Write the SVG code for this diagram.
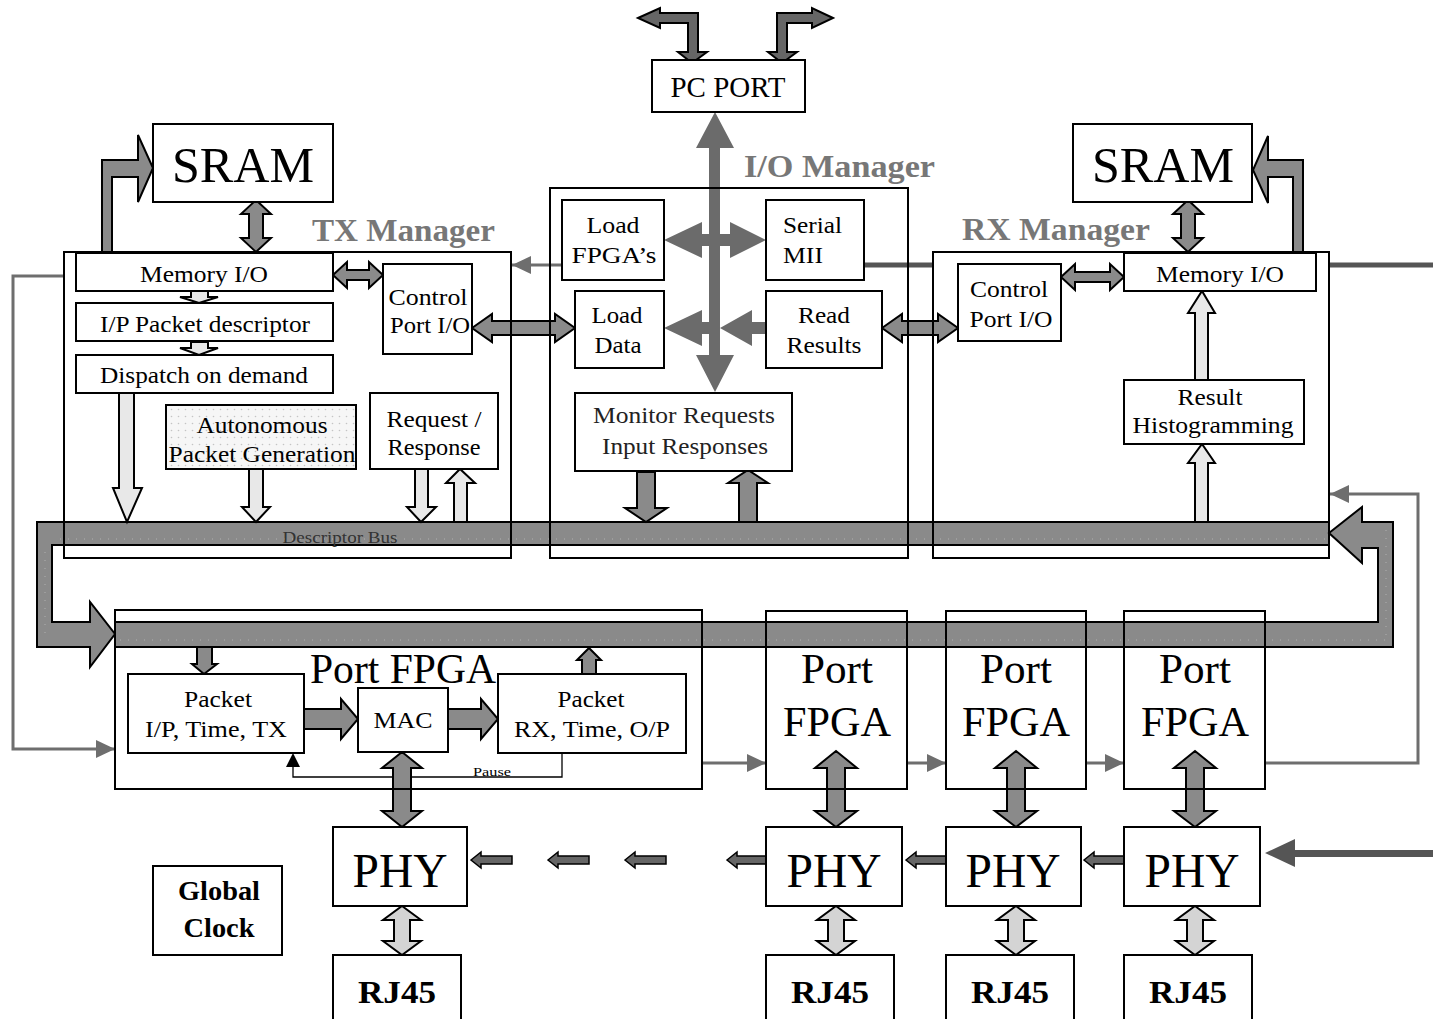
<svg xmlns="http://www.w3.org/2000/svg" width="1433" height="1019" viewBox="0 0 1433 1019">
<style>
.box{fill:#fff;stroke:#000;stroke-width:2}
.ol{fill:none;stroke:#000;stroke-width:2}
.t{font-family:"Liberation Serif","Times New Roman",serif;fill:#000;text-anchor:middle}
.ts{font-family:"Liberation Serif","Times New Roman",serif;fill:#000;text-anchor:start}
.title{font-family:"Liberation Serif","Times New Roman",serif;font-weight:bold;fill:#777;font-size:32px}
.ar{fill:#8a8a8a;stroke:#000;stroke-width:2;stroke-linejoin:miter}
.arl{fill:#e8e8e8;stroke:#000;stroke-width:2}
.arp{fill:#d4d4d4;stroke:#000;stroke-width:2}
.ard{fill:#6b6b6b;stroke:none}
.ars{fill:#666;stroke:#000;stroke-width:1.5}
.gl{fill:none;stroke:#6e6e6e;stroke-width:3}
.dots{fill:none;stroke:#b0b0b0;stroke-width:1;stroke-dasharray:1 7}
</style>
<defs>
<marker id="ga" markerUnits="userSpaceOnUse" markerWidth="19" markerHeight="18" refX="19" refY="9" orient="auto">
<path d="M0,0 L19,9 L0,18 z" fill="#6e6e6e"/>
</marker>
<pattern id="dp" width="7" height="7" patternUnits="userSpaceOnUse">
<rect width="7" height="7" fill="#f6f6f6"/>
<circle cx="3.5" cy="3.5" r="0.8" fill="#c4c4c4"/>
</pattern>
</defs>
<rect width="1433" height="1019" fill="#fff"/>

<!-- container boxes -->
<g id="tx-manager"><rect class="box" x="64" y="252" width="447" height="306"/>
<text class="title" x="312" y="241" textLength="183" lengthAdjust="spacingAndGlyphs">TX Manager</text></g>
<g id="io-manager"><rect class="box" x="550" y="188" width="358" height="370"/>
<text class="title" x="744" y="177" textLength="191" lengthAdjust="spacingAndGlyphs">I/O Manager</text></g>
<g id="rx-manager"><rect class="box" x="933" y="252" width="396" height="306"/>
<text class="title" x="962" y="240" textLength="188" lengthAdjust="spacingAndGlyphs">RX Manager</text></g>
<g id="port-fpga-main"><rect class="box" x="115" y="610" width="587" height="179"/></g>
<g id="port-fpga-2"><rect class="box" x="766" y="611" width="141" height="178"/></g>
<g id="port-fpga-3"><rect class="box" x="946" y="611" width="140" height="178"/></g>
<g id="port-fpga-4"><rect class="box" x="1124" y="611" width="141" height="178"/></g>

<!-- connectors -->
<g id="connectors">
<!-- descriptor bus loop -->
<polygon class="ar" points="1329,522 37,522 37,647 90,647 90,667 115,634 90,602 90,622 52,622 52,545 1329,545"/>
<polygon class="ar" points="115,622 1378,622 1378,548 1362,548 1362,563 1329,533 1362,507 1362,522 1393,522 1393,647 115,647"/>
<line class="dots" x1="60" y1="539" x2="1325" y2="539"/>
<line class="dots" x1="120" y1="640" x2="1386" y2="640"/>
<line class="dots" x1="45" y1="552" x2="45" y2="640"/>
<line class="dots" x1="1386" y1="530" x2="1386" y2="640"/>

<!-- PC port bent arrows -->
<polygon class="ar" style="fill:#666" points="638,18 660,8 660,13 698,13 698,52 707,52 692,63 678,52 688,52 688,23 660,23 660,28"/>
<polygon class="ar" style="fill:#666" points="833,18 812,8 812,13 777,13 777,52 768,52 782,63 797,52 787,52 787,23 812,23 812,28"/>

<!-- I/O manager central arrows -->
<polygon class="ard" points="715,112 734,148 720,148 720,355 734,355 715,392 696,355 709,355 709,148 696,148"/>
<polygon class="ard" points="664,240 702,222 702,234 730,234 730,222 766,240 730,258 730,246 702,246 702,258"/>
<polygon class="ard" points="664,328 702,310 702,322 715,322 715,334 702,334 702,346"/>
<polygon class="ard" points="720,328 752,310 752,322 767,322 767,334 752,334 752,346"/>
<polygon class="ar" points="637,472 655,472 655,508 667,508 646,522 625,508 637,508"/>
<polygon class="ar" points="739,522 739,483 728,483 748,470 768,483 757,483 757,522"/>

<!-- SRAM arrows -->
<polygon class="ar" points="256,200 271,214 263,214 263,238 271,238 256,252 241,238 249,238 249,214 241,214"/>
<polygon class="ar" points="1188,200 1203,214 1195,214 1195,238 1203,238 1188,252 1173,238 1181,238 1181,214 1173,214"/>
<polygon class="ar" points="102,252 102,160 138,160 138,135 153,168 138,202 138,177 112,177 112,252"/>
<polygon class="ar" points="1303,252 1303,160 1268,160 1268,136 1253,170 1268,203 1268,177 1293,177 1293,252"/>

<!-- horizontal double arrows -->
<polygon class="ar" points="333,275 347,262 347,270 369,270 369,262 383,275 369,288 369,280 347,280 347,288"/>
<polygon class="ar" points="1061,277 1075,264 1075,272 1110,272 1110,264 1124,277 1110,290 1110,282 1075,282 1075,290"/>
<polygon class="ar" points="472,328 492,314 492,321 555,321 555,314 575,328 555,342 555,335 492,335 492,342"/>
<polygon class="ar" points="882,328 902,314 902,321 938,321 938,314 958,328 938,342 938,335 902,335 902,342"/>

<!-- TX internal light arrows -->
<polygon class="arl" points="191,291 208,291 208,297 218,297 199,303 180,297 191,297"/>
<polygon class="arl" points="191,342 208,342 208,348 218,348 199,355 180,348 191,348"/>
<polygon class="arl" points="119,393 134,393 134,488 142,488 127,522 113,488 119,488"/>
<polygon class="arl" points="249,469 263,469 263,507 270,507 256,522 242,507 249,507"/>
<polygon class="arl" points="415,469 428,469 428,507 436,507 421,522 407,507 415,507"/>
<polygon class="arl" points="454,522 454,483 446,483 460,469 475,483 467,483 467,522"/>

<!-- RX internal light arrows -->
<polygon class="arl" points="1195,380 1195,313 1188,313 1202,291 1215,313 1208,313 1208,380"/>
<polygon class="arl" points="1195,522 1195,463 1188,463 1202,444 1215,463 1208,463 1208,522"/>

<!-- Port FPGA internal arrows -->
<polygon class="ar" points="304,709 341,709 341,699 358,719 341,739 341,729 304,729"/>
<polygon class="ar" points="448,709 481,709 481,699 498,719 481,739 481,729 448,729"/>
<polygon class="ar" points="197,647 212,647 212,664 217,664 204,674 192,664 197,664"/>
<polygon class="ar" points="582,674 582,660 577,660 589,648 601,660 596,660 596,674"/>
<polyline points="562,753 562,777 293,777 293,766" fill="none" stroke="#000" stroke-width="1.3"/>
<polygon points="293,753 300,767 286,767" fill="#000"/>

<!-- FPGA <-> PHY -->
<polygon class="ar" points="402,752 422,768 411,768 411,811 422,811 402,827 382,811 393,811 393,768 382,768"/>
<polygon class="ar" points="836,751 857,768 845,768 845,811 857,811 836,827 815,811 827,811 827,768 815,768"/>
<polygon class="ar" points="1016,751 1037,768 1025,768 1025,811 1037,811 1016,827 995,811 1007,811 1007,768 995,768"/>
<polygon class="ar" points="1195,751 1216,768 1204,768 1204,811 1216,811 1195,827 1174,811 1186,811 1186,768 1174,768"/>

<!-- PHY <-> RJ45 -->
<polygon class="arp" points="402,906 421,920 410,920 410,941 421,941 402,955 383,941 394,941 394,920 383,920"/>
<polygon class="arp" points="836,906 855,920 844,920 844,941 855,941 836,955 817,941 828,941 828,920 817,920"/>
<polygon class="arp" points="1016,906 1035,920 1024,920 1024,941 1035,941 1016,955 997,941 1008,941 1008,920 997,920"/>
<polygon class="arp" points="1195,906 1214,920 1203,920 1203,941 1214,941 1195,955 1176,941 1187,941 1187,920 1176,920"/>

<!-- small left arrows between PHYs -->
<polygon class="ars" points="471,860 481,852 481,856 512,856 512,864 481,864 481,868"/>
<polygon class="ars" points="548,860 558,852 558,856 589,856 589,864 558,864 558,868"/>
<polygon class="ars" points="625,860 635,852 635,856 666,856 666,864 635,864 635,868"/>
<polygon class="ars" points="727,860 737,852 737,856 766,856 766,864 737,864 737,868"/>
<polygon class="ars" points="906,860 916,852 916,856 946,856 946,864 916,864 916,868"/>
<polygon class="ars" points="1084,860 1094,852 1094,856 1124,856 1124,864 1094,864 1094,868"/>
<polygon fill="#555" points="1265,853 1295,839 1295,850 1433,850 1433,857 1295,857 1295,867"/>

<!-- thin gray control lines -->
<polyline class="gl" points="64,276 13,276 13,749 115,749" marker-end="url(#ga)"/>
<line class="gl" x1="562" y1="265" x2="512" y2="265" marker-end="url(#ga)"/>
<line class="gl" x1="702" y1="763" x2="766" y2="763" marker-end="url(#ga)"/>
<line class="gl" x1="907" y1="763" x2="946" y2="763" marker-end="url(#ga)"/>
<line class="gl" x1="1086" y1="763" x2="1124" y2="763" marker-end="url(#ga)"/>
<polyline class="gl" points="1265,763 1418,763 1418,494 1330,494" marker-end="url(#ga)"/>

<!-- serial MII line -->
<line x1="864" y1="265" x2="933" y2="265" stroke="#555" stroke-width="5"/>
<line x1="1329" y1="265" x2="1433" y2="265" stroke="#555" stroke-width="5"/>
</g>

<!-- outlines re-drawn over the bus -->
<rect class="ol" x="64" y="252" width="447" height="306"/>
<rect class="ol" x="550" y="188" width="358" height="370"/>
<rect class="ol" x="933" y="252" width="396" height="306"/>
<rect class="ol" x="115" y="610" width="587" height="179"/>
<rect class="ol" x="766" y="611" width="141" height="178"/>
<rect class="ol" x="946" y="611" width="140" height="178"/>
<rect class="ol" x="1124" y="611" width="141" height="178"/>
<text class="t" x="340" y="543" font-size="17" fill="#333" style="fill:#333" textLength="115" lengthAdjust="spacingAndGlyphs">Descriptor Bus</text>

<!-- nodes -->
<g id="pc-port"><rect class="box" x="652" y="60" width="153" height="52"/>
<text class="t" x="728" y="97" font-size="29" textLength="115" lengthAdjust="spacingAndGlyphs">PC PORT</text></g>

<g id="sram-tx"><rect class="box" x="153" y="124" width="180" height="78"/>
<text class="t" x="243" y="182" font-size="50" textLength="142" lengthAdjust="spacingAndGlyphs">SRAM</text></g>
<g id="sram-rx"><rect class="box" x="1073" y="124" width="179" height="78"/>
<text class="t" x="1163" y="182" font-size="50" textLength="142" lengthAdjust="spacingAndGlyphs">SRAM</text></g>

<g id="tx-memory-io"><rect class="box" x="76" y="253" width="257" height="38"/>
<text class="t" x="204" y="282" font-size="24" textLength="128" lengthAdjust="spacingAndGlyphs">Memory I/O</text></g>
<g id="tx-ip-packet"><rect class="box" x="76" y="303" width="257" height="38"/>
<text class="t" x="205" y="332" font-size="24" textLength="210" lengthAdjust="spacingAndGlyphs">I/P Packet descriptor</text></g>
<g id="tx-dispatch"><rect class="box" x="76" y="355" width="257" height="38"/>
<text class="t" x="204" y="383" font-size="24" textLength="208" lengthAdjust="spacingAndGlyphs">Dispatch on demand</text></g>
<g id="tx-control-port"><rect class="box" x="383" y="264" width="89" height="90"/>
<text class="t" x="428" y="305" font-size="24" textLength="79" lengthAdjust="spacingAndGlyphs">Control</text>
<text class="t" x="430" y="333" font-size="24" textLength="80" lengthAdjust="spacingAndGlyphs">Port I/O</text></g>
<g id="tx-autonomous"><rect x="166" y="405" width="190" height="64" fill="url(#dp)" stroke="#000" stroke-width="2"/>
<text class="t" x="262" y="433" font-size="24" textLength="131" lengthAdjust="spacingAndGlyphs">Autonomous</text>
<text class="t" x="262" y="462" font-size="24" textLength="187" lengthAdjust="spacingAndGlyphs">Packet Generation</text></g>
<g id="tx-request"><rect class="box" x="370" y="393" width="128" height="76"/>
<text class="t" x="434" y="427" font-size="24" textLength="95" lengthAdjust="spacingAndGlyphs">Request /</text>
<text class="t" x="434" y="455" font-size="24" textLength="93" lengthAdjust="spacingAndGlyphs">Response</text></g>

<g id="io-load-fpga"><rect class="box" x="562" y="200" width="102" height="80"/>
<text class="t" x="613" y="233" font-size="24" textLength="53" lengthAdjust="spacingAndGlyphs">Load</text>
<text class="t" x="614" y="263" font-size="24" textLength="85" lengthAdjust="spacingAndGlyphs">FPGA’s</text></g>
<g id="io-serial-mii"><rect class="box" x="766" y="200" width="98" height="80"/>
<text class="ts" x="783" y="233" font-size="24" textLength="59" lengthAdjust="spacingAndGlyphs">Serial</text>
<text class="ts" x="783" y="263" font-size="24" textLength="40" lengthAdjust="spacingAndGlyphs">MII</text></g>
<g id="io-load-data"><rect class="box" x="575" y="291" width="89" height="77"/>
<text class="t" x="617" y="323" font-size="24" textLength="51" lengthAdjust="spacingAndGlyphs">Load</text>
<text class="t" x="618" y="353" font-size="24" textLength="47" lengthAdjust="spacingAndGlyphs">Data</text></g>
<g id="io-read-results"><rect class="box" x="766" y="291" width="116" height="77"/>
<text class="t" x="824" y="323" font-size="24" textLength="52" lengthAdjust="spacingAndGlyphs">Read</text>
<text class="t" x="824" y="353" font-size="24" textLength="75" lengthAdjust="spacingAndGlyphs">Results</text></g>
<g id="io-monitor"><rect class="box" x="575" y="393" width="217" height="78"/>
<text class="t" x="684" y="423" font-size="23" style="fill:#222" textLength="182" lengthAdjust="spacingAndGlyphs">Monitor Requests</text>
<text class="t" x="685" y="454" font-size="23" style="fill:#222" textLength="166" lengthAdjust="spacingAndGlyphs">Input Responses</text></g>

<g id="rx-control-port"><rect class="box" x="958" y="264" width="103" height="77"/>
<text class="t" x="1009" y="297" font-size="24" textLength="78" lengthAdjust="spacingAndGlyphs">Control</text>
<text class="t" x="1011" y="327" font-size="24" textLength="83" lengthAdjust="spacingAndGlyphs">Port I/O</text></g>
<g id="rx-memory-io"><rect class="box" x="1124" y="253" width="192" height="38"/>
<text class="t" x="1220" y="282" font-size="24" textLength="128" lengthAdjust="spacingAndGlyphs">Memory I/O</text></g>
<g id="rx-histogram"><rect class="box" x="1124" y="380" width="180" height="64"/>
<text class="t" x="1210" y="405" font-size="24" textLength="65" lengthAdjust="spacingAndGlyphs">Result</text>
<text class="t" x="1213" y="433" font-size="24" textLength="161" lengthAdjust="spacingAndGlyphs">Histogramming</text></g>

<g id="port-fpga-main-label"><text class="ts" x="310" y="683" font-size="42" textLength="186" lengthAdjust="spacingAndGlyphs">Port FPGA</text></g>
<g id="pkt-tx"><rect class="box" x="128" y="674" width="176" height="79"/>
<text class="t" x="218" y="707" font-size="24" textLength="68" lengthAdjust="spacingAndGlyphs">Packet</text>
<text class="t" x="216" y="737" font-size="24" textLength="142" lengthAdjust="spacingAndGlyphs">I/P, Time, TX</text></g>
<g id="mac"><rect class="box" x="358" y="688" width="90" height="64"/>
<text class="t" x="403" y="728" font-size="24" textLength="59" lengthAdjust="spacingAndGlyphs">MAC</text></g>
<g id="pkt-rx"><rect class="box" x="498" y="674" width="188" height="79"/>
<text class="t" x="591" y="707" font-size="24" textLength="67" lengthAdjust="spacingAndGlyphs">Packet</text>
<text class="t" x="592" y="737" font-size="24" textLength="156" lengthAdjust="spacingAndGlyphs">RX, Time, O/P</text></g>
<text class="t" x="492" y="776" font-size="13" textLength="38" lengthAdjust="spacingAndGlyphs">Pause</text>

<g id="port-fpga-2-label"><text class="t" x="837" y="683" font-size="42" textLength="72" lengthAdjust="spacingAndGlyphs">Port</text>
<text class="t" x="837" y="736" font-size="42" textLength="108" lengthAdjust="spacingAndGlyphs">FPGA</text></g>
<g id="port-fpga-3-label"><text class="t" x="1016" y="683" font-size="42" textLength="72" lengthAdjust="spacingAndGlyphs">Port</text>
<text class="t" x="1016" y="736" font-size="42" textLength="108" lengthAdjust="spacingAndGlyphs">FPGA</text></g>
<g id="port-fpga-4-label"><text class="t" x="1195" y="683" font-size="42" textLength="72" lengthAdjust="spacingAndGlyphs">Port</text>
<text class="t" x="1195" y="736" font-size="42" textLength="108" lengthAdjust="spacingAndGlyphs">FPGA</text></g>

<g id="phy-1"><rect class="box" x="333" y="827" width="134" height="79"/>
<text class="t" x="400" y="887" font-size="48" textLength="95" lengthAdjust="spacingAndGlyphs">PHY</text></g>
<g id="phy-2"><rect class="box" x="766" y="827" width="136" height="79"/>
<text class="t" x="834" y="887" font-size="48" textLength="95" lengthAdjust="spacingAndGlyphs">PHY</text></g>
<g id="phy-3"><rect class="box" x="946" y="827" width="135" height="79"/>
<text class="t" x="1013" y="887" font-size="48" textLength="95" lengthAdjust="spacingAndGlyphs">PHY</text></g>
<g id="phy-4"><rect class="box" x="1124" y="827" width="136" height="79"/>
<text class="t" x="1192" y="887" font-size="48" textLength="95" lengthAdjust="spacingAndGlyphs">PHY</text></g>

<g id="rj45-1"><rect class="box" x="333" y="955" width="128" height="70"/>
<text class="t" x="397" y="1003" font-size="32" font-weight="bold" textLength="78" lengthAdjust="spacingAndGlyphs">RJ45</text></g>
<g id="rj45-2"><rect class="box" x="766" y="955" width="128" height="70"/>
<text class="t" x="830" y="1003" font-size="32" font-weight="bold" textLength="78" lengthAdjust="spacingAndGlyphs">RJ45</text></g>
<g id="rj45-3"><rect class="box" x="946" y="955" width="128" height="70"/>
<text class="t" x="1010" y="1003" font-size="32" font-weight="bold" textLength="78" lengthAdjust="spacingAndGlyphs">RJ45</text></g>
<g id="rj45-4"><rect class="box" x="1124" y="955" width="128" height="70"/>
<text class="t" x="1188" y="1003" font-size="32" font-weight="bold" textLength="78" lengthAdjust="spacingAndGlyphs">RJ45</text></g>

<g id="global-clock"><rect class="box" x="153" y="866" width="129" height="89"/>
<text class="t" x="219" y="900" font-size="27" font-weight="bold" textLength="82" lengthAdjust="spacingAndGlyphs">Global</text>
<text class="t" x="219" y="937" font-size="27" font-weight="bold" textLength="71" lengthAdjust="spacingAndGlyphs">Clock</text></g>
</svg>
